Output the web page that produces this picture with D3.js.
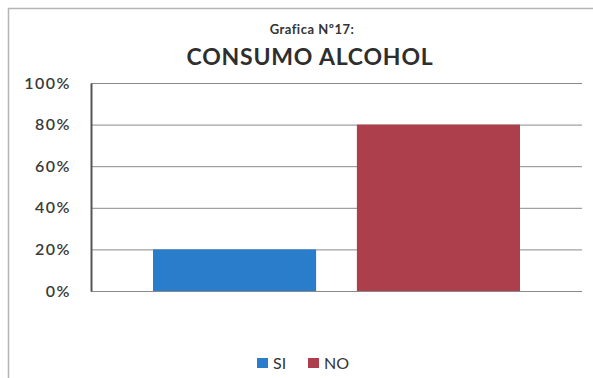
<!DOCTYPE html>
<html>
<head>
<meta charset="utf-8">
<script src="https://cdn.jsdelivr.net/npm/d3@7"></script>
<style>
  body { margin: 0; background: #fff; }
  svg text { font-family: Lato, "Open Sans", sans-serif; }
</style>
</head>
<body>
<div id="chart"></div>
<script>
// data
const categories = ['CONSUMO'];
const seriesNames = ['SI', 'NO'];
const seriesValues = [0.20, 0.80];
const tickValues = [0, 0.2, 0.4, 0.6, 0.8, 1];
const colors = ['#2a7dca', '#ad3e4c'];

const width = 593, height = 378;
const margin = { top: 83, right: 11, bottom: 87, left: 91 };

const svg = d3.select('#chart').append('svg')
  .attr('width', width)
  .attr('height', height);

// outer frame
svg.append('rect')
  .attr('x', 8.5).attr('y', 8.5)
  .attr('width', width + 10).attr('height', height + 10)
  .attr('fill', '#fff')
  .attr('stroke', '#b5b5b5')
  .attr('stroke-width', 1.5);

const x0 = d3.scaleBand()
  .domain(categories)
  .range([margin.left, width - margin.right])
  .paddingOuter(0.169);

const x1 = d3.scaleBand()
  .domain(seriesNames)
  .range([0, x0.bandwidth()])
  .paddingInner(0.2);

const y = d3.scaleLinear()
  .domain([0, 1])
  .range([height - margin.bottom, margin.top]);

// gridlines
svg.append('g')
  .attr('class', 'grid')
  .attr('transform', `translate(${margin.left},0)`)
  .call(d3.axisLeft(y).tickValues(tickValues).tickSize(-(width - margin.right - margin.left)).tickFormat(''))
  .call(g => g.select('.domain').remove())
  .call(g => g.selectAll('.tick line').attr('stroke', '#8a8a8a').attr('stroke-width', 1));

// bars
svg.append('g')
  .selectAll('rect')
  .data(seriesValues)
  .enter()
  .append('rect')
  .attr('x', (d, i) => x0(categories[0]) + x1(seriesNames[i]))
  .attr('y', d => y(d))
  .attr('width', x1.bandwidth())
  .attr('height', d => y(0) - y(d))
  .attr('fill', (d, i) => colors[i]);

// y axis
svg.append('g')
  .attr('transform', `translate(${margin.left},0)`)
  .call(d3.axisLeft(y).tickValues(tickValues).tickSize(0).tickPadding(20).tickFormat(d3.format('.0%')))
  .call(g => g.select('.domain').attr('stroke', '#555').attr('stroke-width', 2))
  .call(g => g.selectAll('.tick text')
    .attr('fill', '#3a3a3a')
    .style('font-size', '16px')
    .style('letter-spacing', '1.5px')
    .style('font-weight', '600'));

// titles
svg.append('text')
  .attr('x', 312).attr('y', 34)
  .attr('text-anchor', 'middle')
  .attr('fill', '#333')
  .style('font-size', '13px')
  .style('font-weight', 'bold')
  .style('letter-spacing', '0.5px')
  .text('Grafica Nº17:');

svg.append('text')
  .attr('x', 310).attr('y', 65)
  .attr('text-anchor', 'middle')
  .attr('fill', '#2e2e2e')
  .style('font-size', '23px')
  .style('font-weight', 'bold')
  .style('letter-spacing', '0.8px')
  .text('CONSUMO ALCOHOL');

// legend
const legend = svg.append('g')
  .attr('transform', 'translate(257,363)');

const item = legend.selectAll('g')
  .data(seriesNames)
  .enter()
  .append('g')
  .attr('transform', (d, i) => `translate(${i * 51},0)`);

item.append('rect')
  .attr('x', 0).attr('y', -5)
  .attr('width', 11).attr('height', 10)
  .attr('fill', (d, i) => colors[i]);

item.append('text')
  .attr('x', 16).attr('y', 6)
  .attr('fill', '#333')
  .style('font-size', '16px')
  .text(d => d);
</script>
</body>
</html>
